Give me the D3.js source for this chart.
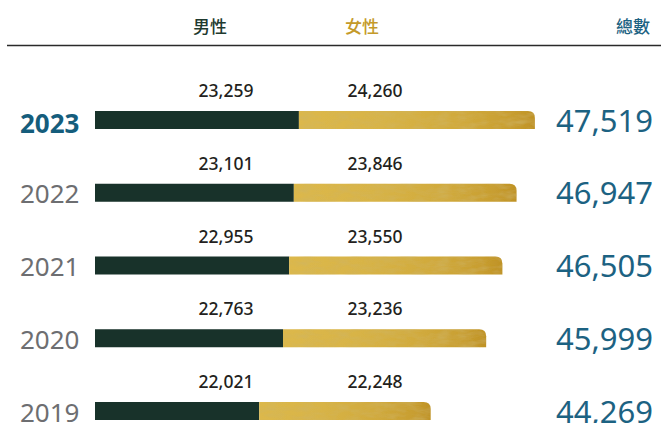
<!DOCTYPE html>
<html><head><meta charset="utf-8">
<script src="https://cdn.jsdelivr.net/npm/d3@7"></script>
<style>
html,body{margin:0;padding:0;background:#fff;}
svg{display:block;}
</style></head>
<body>
<script>
const years = ["2023","2022","2021","2020","2019"];
const male = [23259, 23101, 22955, 22763, 22021];
const female = [24260, 23846, 23550, 23236, 22248];
const total = [47519, 46947, 46505, 45999, 44269];
const headers = ["男性", "女性", "總數"];

const W = 661, H = 423;
const svg = d3.select("body").append("svg").attr("width", W).attr("height", H);
const defs = svg.append("defs");

const grad = defs.append("linearGradient").attr("id", "gold").attr("x1", "0").attr("x2", "1").attr("y1", "0").attr("y2", "0");
[[0, "#dcb84c"], [0.35, "#d8b447"], [0.7, "#d0a93c"], [0.9, "#c89e31"], [1, "#bf9226"]].forEach(([o, c]) =>
  grad.append("stop").attr("offset", o).attr("stop-color", c));

const f = defs.append("filter").attr("id", "tex").attr("x", 0).attr("y", 0).attr("width", 1).attr("height", 1);
f.append("feTurbulence").attr("type", "fractalNoise").attr("baseFrequency", "0.06 0.2").attr("numOctaves", 3).attr("seed", 4).attr("result", "n");
f.append("feColorMatrix").attr("in", "n").attr("type", "matrix")
  .attr("values", "0 0 0 0 0.62  0 0 0 0 0.46  0 0 0 0 0.12  0 0 0 -1.1 0.7").attr("result", "na");
f.append("feComposite").attr("in", "na").attr("in2", "SourceGraphic").attr("operator", "in").attr("result", "nc");
const fm = f.append("feMerge");
fm.append("feMergeNode").attr("in", "SourceGraphic");
fm.append("feMergeNode").attr("in", "nc");

const font = "'Noto Sans', 'Open Sans', sans-serif";
const cjk = "'Noto Sans CJK TC', 'Noto Sans CJK SC', sans-serif";

// header
const hx = [210, 362, 633];
const hc = ["#1f3a2f", "#c49a2a", "#1c6282"];
svg.selectAll("text.h").data(headers).join("text").attr("class", "h")
  .attr("x", (d, i) => hx[i]).attr("y", 33).attr("text-anchor", "middle")
  .attr("font-family", cjk).attr("font-size", 17).attr("font-weight", 500)
  .attr("fill", (d, i) => hc[i]).text(d => d);
svg.append("line").attr("x1", 7).attr("x2", W).attr("y1", 45.5).attr("y2", 45.5)
  .attr("stroke", "#2a2a2a").attr("stroke-width", 1.6);

const x0 = 95;
const x = d3.scaleLinear().domain([16900, 24260]).range([0, 236]);
const y = d3.scalePoint().domain(years).range([111, 402]);
const bh = 18, r = 7;

const rows = years.map((yr, i) => ({ yr, m: male[i], f: female[i], t: total[i], i }));
const g = svg.selectAll("g.row").data(rows).join("g").attr("class", "row")
  .attr("transform", d => `translate(0,${y(d.yr)})`);

g.append("rect").attr("x", x0).attr("y", 0).attr("width", d => x(d.m)).attr("height", bh).attr("fill", "#18322a");

g.append("path").attr("fill", "url(#gold)").attr("filter", "url(#tex)")
  .attr("d", d => {
    const s = x0 + x(d.m), e = s + x(d.f);
    return `M${s},0 H${e - r} Q${e},0 ${e},${r} V${bh} H${s} Z`;
  });

g.append("text").attr("x", 226).attr("y", -14).attr("text-anchor", "middle")
  .attr("font-family", font).attr("font-size", 17.5).attr("font-weight", 500).attr("fill", "#231f20")
  .text(d => d3.format(",")(d.m));
g.append("text").attr("x", 375).attr("y", -14).attr("text-anchor", "middle")
  .attr("font-family", font).attr("font-size", 17.5).attr("font-weight", 500).attr("fill", "#231f20")
  .text(d => d3.format(",")(d.f));

g.append("text").attr("x", 20).attr("y", d => d.i === 0 ? bh + 4 : bh + 1.5).attr("font-family", font).attr("font-size", 26)
  .attr("font-weight", d => d.i === 0 ? 700 : 400)
  .attr("fill", d => d.i === 0 ? "#155d7c" : "#6d6e71").text(d => d.yr);

g.append("text").attr("x", 653).attr("y", bh + 2.5).attr("text-anchor", "end")
  .attr("font-family", font).attr("font-size", 31).attr("fill", "#1c6282")
  .text(d => d3.format(",")(d.t));
</script>
</body></html>
